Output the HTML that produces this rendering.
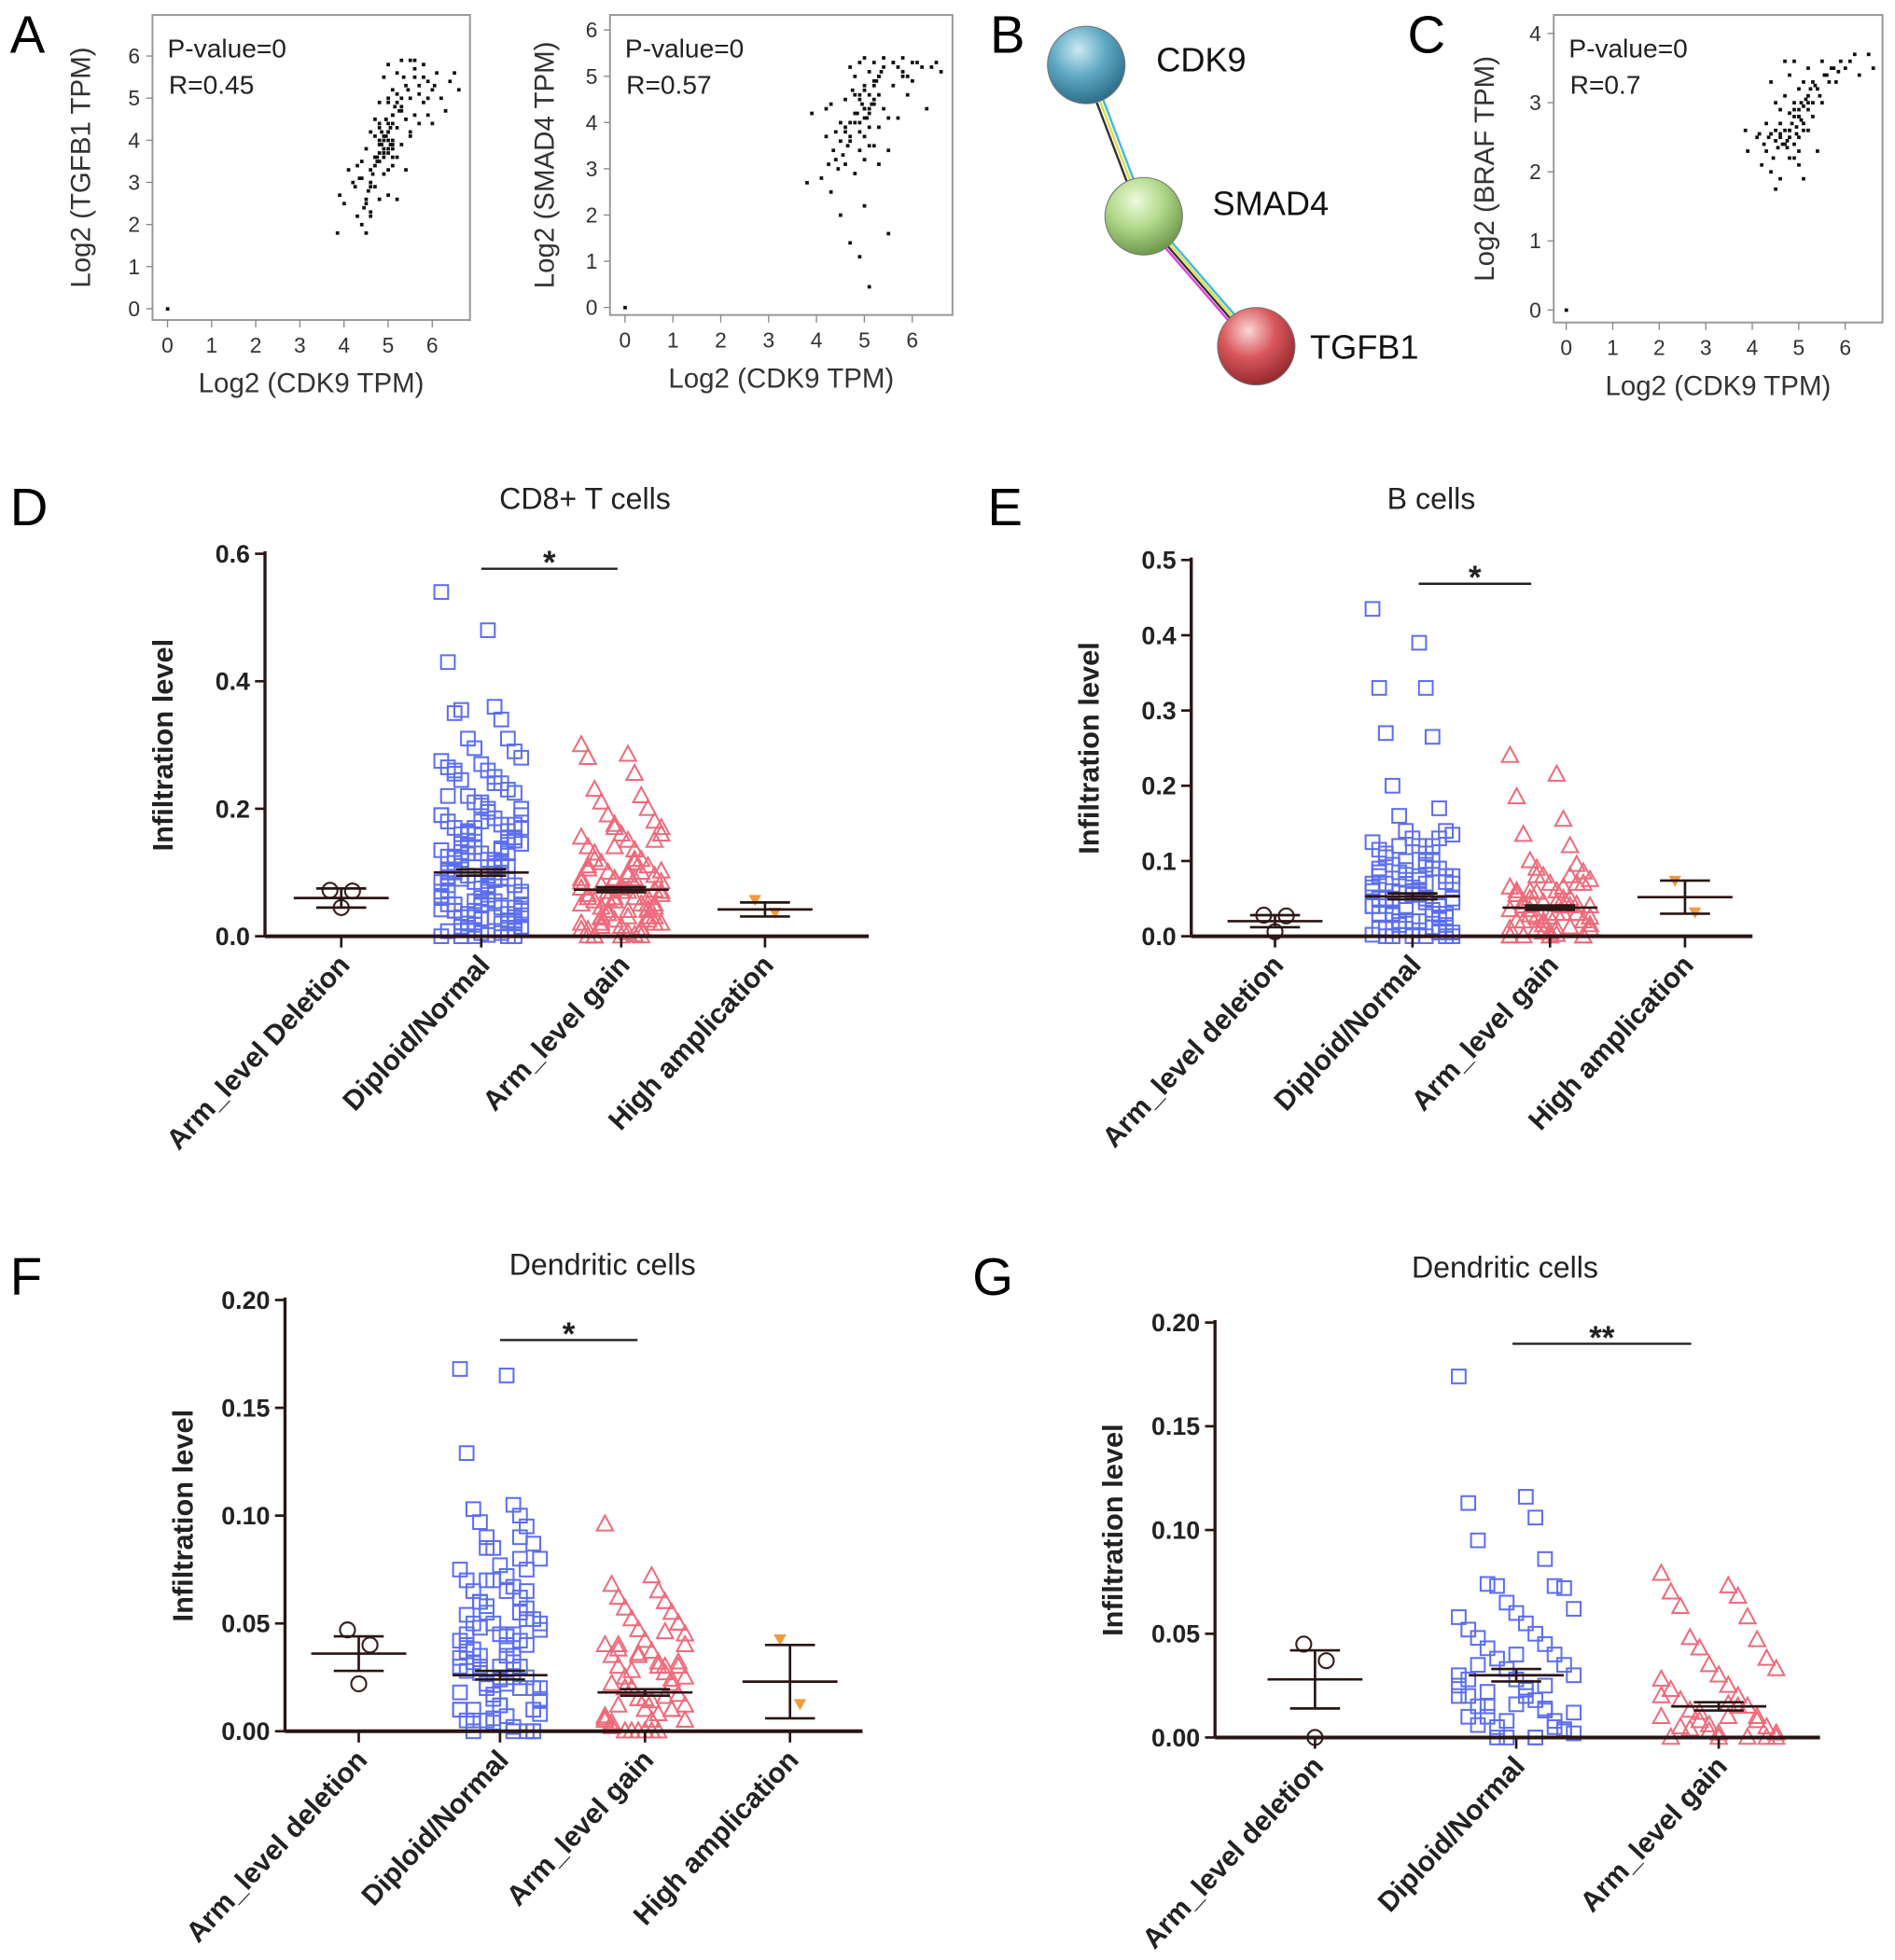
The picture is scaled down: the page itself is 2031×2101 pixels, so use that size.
<!DOCTYPE html>
<html><head><meta charset="utf-8"><style>
html,body{margin:0;padding:0;background:#fff;}
svg{display:block;font-family:"Liberation Sans",Arial,sans-serif;}
</style></head><body>
<svg id="fig" width="2031" height="2101" viewBox="0 0 1516 1568" preserveAspectRatio="none" xmlns="http://www.w3.org/2000/svg">
<defs>
<radialGradient id="gC" cx="40%" cy="30%" r="70%"><stop offset="0" stop-color="#cdeaf2"/><stop offset="0.5" stop-color="#5fa9c4"/><stop offset="1" stop-color="#2e6f8a"/></radialGradient>
<radialGradient id="gS" cx="40%" cy="30%" r="70%"><stop offset="0" stop-color="#eefadc"/><stop offset="0.5" stop-color="#b2d98a"/><stop offset="1" stop-color="#6f9a4c"/></radialGradient>
<radialGradient id="gT" cx="40%" cy="30%" r="70%"><stop offset="0" stop-color="#fbd6d6"/><stop offset="0.5" stop-color="#d9575b"/><stop offset="1" stop-color="#962a2e"/></radialGradient>
</defs>
</svg>
<script>
// ===== Scatter data (panels A, C) =====
const a1X=[0,3.85,3.9,4.0,4.1,4.2,4.3,4.3,4.4,4.4,4.5,4.5,4.5,4.6,4.6,4.6,4.7,4.7,4.7,4.8,4.8,4.8,4.8,4.9,4.9,4.9,4.9,5.0,5.0,5.0,5.0,5.0,5.1,5.1,5.1,5.1,5.2,5.2,5.2,5.2,5.3,5.3,5.3,5.4,5.4,5.4,5.5,5.5,5.5,5.6,5.6,5.7,5.7,5.8,5.8,5.9,6.0,6.0,6.1,6.2,6.3,6.4,6.5,6.6,4.6,4.8,5.0,5.2,4.9,5.1,4.7,5.0,5.3,4.8,5.1,5.5,4.4,5.6,5.9,4.95,
4.85,4.9,4.95,5.0,5.05,4.8,4.9,5.0,5.1,4.75,4.85,4.95,5.05,5.15,4.7,4.8,5.0,5.2,4.6,4.9,5.1,5.3,4.65,4.75,5.25,5.35,4.55,5.45,4.45,5.6,5.7,5.8,4.35,4.25,5.9,6.05,4.5,4.6,5.0,5.1];
const a1Y=[0,1.8,2.7,2.5,3.3,3.0,3.4,2.2,3.5,2.0,2.6,3.8,1.8,3.3,4.2,2.3,3.6,4.5,2.9,3.9,4.9,2.6,3.5,4.1,5.5,3.2,3.8,4.4,5.0,3.7,2.7,5.8,4.0,4.6,3.4,5.2,4.3,3.6,5.6,2.6,4.8,3.9,5.9,4.5,5.3,3.3,4.2,5.0,5.9,4.6,5.5,4.4,5.3,4.9,5.8,4.6,5.2,4.4,5.6,5.0,4.7,5.4,5.6,5.2,3.0,4.3,4.0,4.9,3.6,3.8,4.1,4.2,4.7,3.7,3.9,4.1,3.1,5.9,5.4,4.5,
3.9,4.0,4.1,4.2,4.3,4.4,3.7,3.8,4.6,3.6,4.2,4.5,3.9,4.8,3.4,4.0,4.9,5.1,2.9,3.7,4.4,5.0,3.2,3.5,4.7,5.5,2.8,5.2,2.4,5.7,5.1,5.5,3.1,2.9,5.0,5.3,2.5,2.2,3.3,3.6];
const a2X=[0,3.8,3.9,4.1,4.2,4.3,4.3,4.4,4.5,4.5,4.6,4.6,4.7,4.7,4.7,4.8,4.8,4.8,4.9,4.9,4.9,4.9,5.0,5.0,5.0,5.0,5.0,5.1,5.1,5.1,5.1,5.2,5.2,5.2,5.3,5.3,5.3,5.4,5.4,5.5,5.5,5.6,5.6,5.7,5.8,5.8,5.9,6.0,6.1,6.2,6.3,6.4,6.5,6.6,4.6,4.9,5.0,5.2,5.5,4.8,5.0,5.1,4.7,5.3,5.8,4.4,4.2,
4.85,4.95,5.05,4.9,5.0,5.1,4.8,4.75,5.15,4.7,5.2,4.65,5.25,4.6,5.3,4.55,5.35,4.5,5.4,4.45,5.6,5.7,5.9,6.0,4.35,4.25,4.9,5.0,5.1,5.2];
const a2Y=[0,2.7,4.2,2.8,3.7,2.5,4.4,3.8,2.0,4.0,3.1,4.5,1.4,3.6,5.2,4.2,2.9,5.0,4.6,3.4,5.3,1.1,4.1,4.7,3.2,5.4,2.2,4.3,0.45,3.9,5.1,4.4,3.5,5.3,4.6,3.1,5.0,4.3,5.4,3.4,1.6,4.8,5.3,4.1,5.0,5.4,4.6,4.9,5.3,5.2,4.3,5.2,5.3,5.1,3.8,4.0,4.3,4.5,4.1,4.6,4.8,4.2,4.0,3.9,5.1,3.2,4.3,
4.2,4.4,4.1,4.5,4.3,4.6,4.0,4.7,4.4,3.7,4.8,3.5,4.9,3.9,5.0,3.3,5.1,3.6,5.2,3.0,5.3,5.2,5.0,5.3,3.4,3.1,3.8,3.7,3.5,4.9];
const cX=[0,3.85,3.9,4.1,4.2,4.3,4.3,4.4,4.4,4.5,4.5,4.5,4.6,4.6,4.6,4.7,4.7,4.7,4.8,4.8,4.8,4.9,4.9,4.9,4.9,5.0,5.0,5.0,5.0,5.1,5.1,5.1,5.2,5.2,5.2,5.3,5.3,5.4,5.4,5.5,5.5,5.6,5.7,5.8,5.9,6.0,6.1,6.2,6.3,6.5,6.6,4.6,4.8,5.0,5.2,4.95,5.05,4.75,5.15,4.55,
4.85,4.9,5.0,5.1,4.8,4.7,5.2,4.65,4.95,5.05,4.75,5.25,4.6,5.3,4.5,4.4,5.35,4.45,5.45,4.35,5.55,5.65,5.75,5.85,4.25,4.15,5.0,4.9,5.1,4.8];
const cY=[0,2.6,2.3,2.5,2.1,2.7,2.3,3.3,2.0,2.6,1.75,3.0,2.5,2.9,1.9,2.4,3.1,3.6,2.6,2.2,3.4,2.8,2.4,3.0,3.6,2.5,3.2,2.1,2.9,2.7,3.3,1.9,3.0,2.6,3.5,2.8,3.3,3.2,2.3,3.0,3.6,3.4,3.5,3.3,3.6,3.5,3.6,3.7,3.4,3.7,3.5,2.7,2.6,2.8,2.9,2.55,2.75,2.45,3.05,2.35,
2.7,2.9,2.8,2.95,2.5,2.6,3.1,2.4,2.65,3.0,2.35,3.2,2.55,3.0,2.45,2.55,3.25,2.2,3.1,2.5,3.4,3.3,3.5,3.45,2.4,2.55,2.3,2.2,2.6,2.85];

// ===== Infiltration data (panels D-G) =====
const dCats=["Arm_level Deletion","Diploid/Normal","Arm_level gain","High amplication"];
const dDel=[0.072,0.071,0.045];
const dDip=[0.54,0.48,0.43,0.36,0.35,0.34,0.355,0.31,0.31,0.29,0.295,0.28,0.27,0.275,0.26,0.265,0.25,0.255,0.24,0.245,0.23,0.22,0.225,0.21,0.2,0.205,0.19,0.195,0.18,0.185,0.17,0.175,0.16,0.165,0.15,0.155,0.14,0.145,0.13,0.135,0.12,0.125,0.11,0.115,0.1,0.105,0.09,0.095,0.08,0.085,0.07,0.075,0.06,0.065,0.05,0.055,0.04,0.045,0.03,0.035,0.02,0.025,0.01,0.015,0.005,0.0,0.002,0.008,0.03,0.05,0.07,0.09,0.11,0.13,0.15,0.17,0.19,0.21,0.06,0.08,0.1,0.12,0.04,0.02,0.0,
0.0,0.01,0.02,0.03,0.04,0.05,0.06,0.07,0.08,0.09,0.1,0.11,0.12,0.13,0.14,0.15,0.16,0.17,0.18,0.19,0.2,0.22,0.24,0.26,0.005,0.015,0.025,0.035,0.045,0.055,0.065,0.075,0.085,0.095,0.105,0.115,0.125,0.135,0.145,0.155,0.165,0.175,0.0,0.012,0.028,0.042,0.058,0.072,0.088,0.102,0.118,0.132,0.148,0.162,0.0,0.018,0.033,0.048,0.063,0.078,0.093,0.108,0.123,0.138,0.0,0.01,0.02,0.03,0.04,0.05,0.06,0.07,0.08,0.09];
const dGain=[0.3,0.285,0.28,0.255,0.23,0.22,0.21,0.2,0.19,0.18,0.175,0.17,0.16,0.155,0.15,0.14,0.135,0.13,0.12,0.115,0.11,0.1,0.095,0.09,0.085,0.08,0.075,0.07,0.065,0.06,0.055,0.05,0.045,0.04,0.035,0.03,0.025,0.02,0.015,0.01,0.005,0.0,0.002,0.12,0.1,0.08,0.06,0.04,0.02,0.14,0.16,0.07,0.05,0.03,0.01,0.09,
0.0,0.01,0.02,0.03,0.04,0.05,0.06,0.07,0.08,0.09,0.1,0.11,0.12,0.13,0.0,0.015,0.025,0.035,0.045,0.055,0.065,0.075,0.085,0.095,0.105,0.115,0.0,0.012,0.028,0.042,0.058,0.072,0.088,0.102,0.0,0.02,0.04,0.06,0.08,0.0,0.01,0.03,0.05,0.07,0.15,0.17];
const dHigh=[0.055,0.035];
const dMean=[0.06,0.1,0.073,0.042];
const dSem=[0.015,0.005,0.004,0.011];

const eCats=["Arm_level deletion","Diploid/Normal","Arm_level gain","High amplication"];
const eDel=[0.028,0.027,0.006];
const eDip=[0.435,0.39,0.33,0.33,0.27,0.265,0.2,0.17,0.16,0.14,0.14,0.135,0.13,0.125,0.12,0.115,0.11,0.105,0.1,0.095,0.09,0.085,0.08,0.075,0.07,0.065,0.06,0.055,0.05,0.045,0.04,0.035,0.03,0.025,0.02,0.015,0.01,0.005,0.0,0.002,0.008,0.03,0.05,0.07,0.09,0.06,0.04,0.02,0.0,0.1,0.08,0.06,0.04,0.02,0.01,0.07,0.05,0.03,
0.0,0.01,0.02,0.03,0.04,0.05,0.06,0.07,0.08,0.09,0.1,0.11,0.12,0.0,0.005,0.015,0.025,0.035,0.045,0.055,0.065,0.075,0.085,0.095,0.0,0.012,0.028,0.042,0.058,0.072,0.088,0.0,0.02,0.04,0.06,0.08,0.0,0.01,0.03,0.05,0.13,0.12];
const eGain=[0.24,0.215,0.185,0.155,0.135,0.12,0.1,0.095,0.09,0.085,0.08,0.075,0.07,0.065,0.06,0.055,0.05,0.045,0.04,0.035,0.03,0.025,0.02,0.015,0.01,0.005,0.0,0.002,0.06,0.04,0.02,0.08,0.05,0.03,0.01,0.07,0.045,0.025,0.0,
0.0,0.01,0.02,0.03,0.04,0.05,0.06,0.07,0.08,0.0,0.005,0.015,0.025,0.035,0.045,0.055,0.065,0.0,0.012,0.028,0.042,0.058,0.0,0.02,0.04,0.0,0.01,0.03];
const eHigh=[0.072,0.03];
const eMean=[0.02,0.053,0.038,0.052];
const eSem=[0.008,0.004,0.003,0.022];

const fCats=["Arm_level deletion","Diploid/Normal","Arm_level gain","High amplication"];
const fDel=[0.047,0.04,0.022];
const fDip=[0.168,0.165,0.129,0.105,0.103,0.1,0.097,0.095,0.09,0.087,0.085,0.08,0.077,0.075,0.072,0.07,0.067,0.065,0.062,0.06,0.057,0.055,0.052,0.05,0.047,0.045,0.042,0.04,0.037,0.035,0.032,0.03,0.027,0.025,0.022,0.02,0.017,0.015,0.012,0.01,0.007,0.005,0.002,0.0,0.08,0.06,0.04,0.02,0.0,0.07,0.05,0.03,0.01,0.065,0.045,0.025,0.005,0.09,0.035,
0.0,0.005,0.01,0.015,0.02,0.025,0.03,0.035,0.04,0.045,0.05,0.055,0.06,0.065,0.07,0.0,0.004,0.008,0.012,0.018,0.022,0.028,0.032,0.038,0.042,0.048,0.052,0.058,0.0,0.006,0.014,0.024,0.034,0.044,0.054,0.0,0.01,0.02,0.03,0.075,0.085];
const fGain=[0.096,0.072,0.068,0.065,0.062,0.06,0.057,0.055,0.052,0.05,0.047,0.045,0.042,0.04,0.037,0.035,0.032,0.03,0.027,0.025,0.022,0.02,0.017,0.015,0.012,0.01,0.007,0.005,0.002,0.0,0.04,0.03,0.02,0.01,0.0,0.05,0.035,0.025,0.015,0.005,
0.0,0.004,0.008,0.012,0.016,0.02,0.024,0.028,0.032,0.036,0.04,0.0,0.006,0.014,0.022,0.03,0.038,0.046,0.0,0.01,0.02,0.03,0.0,0.005,0.015];
const fHigh=[0.042,0.012];
const fMean=[0.036,0.026,0.018,0.023];
const fSem=[0.008,0.002,0.0015,0.017];

const gCats=["Arm_level deletion","Diploid/Normal","Arm_level gain"];
const gDel=[0.045,0.037,0.0];
const gDip=[0.174,0.116,0.113,0.106,0.095,0.086,0.074,0.073,0.073,0.072,0.065,0.062,0.06,0.058,0.055,0.052,0.05,0.048,0.045,0.043,0.04,0.038,0.035,0.033,0.03,0.028,0.025,0.023,0.02,0.018,0.015,0.013,0.01,0.008,0.005,0.003,0.0,0.002,0.04,0.03,0.02,0.01,0.0,0.035,0.025,0.015,0.005,
0.0,0.004,0.008,0.012,0.016,0.02,0.024,0.028,0.0,0.006,0.014,0.022];
const gGain=[0.079,0.073,0.07,0.068,0.063,0.058,0.048,0.047,0.043,0.038,0.035,0.033,0.03,0.028,0.025,0.023,0.02,0.018,0.015,0.013,0.01,0.008,0.005,0.003,0.0,0.002,0.02,0.01,0.0,0.015,0.005,
0.0,0.004,0.008,0.012,0.0,0.006,0.002,0.0,0.01,0.016];
const gMean=[0.028,0.03,0.015];
const gSem=[0.014,0.003,0.002];

const NS="http://www.w3.org/2000/svg";
const svg=document.getElementById('fig');
function mk(tag,attrs,parent,txt){const e=document.createElementNS(NS,tag);for(const k in attrs)e.setAttribute(k,attrs[k]);if(txt!==undefined)e.textContent=txt;(parent||svg).appendChild(e);return e;}

[["A",8,42],["B",792,42],["C",1126,42],["D",8,420],["E",790,420],["F",8,1036],["G",778,1036]].forEach(p=>{
  const t=mk('text',{x:p[1],y:p[2],'font-size':42},svg,p[0]);
  
  
});

function scatter(cfg,xs,ys){
  const g=mk('g',{});
  
  
  const sx=v=>cfg.x0+v*cfg.xu, sy=v=>cfg.y0-v*cfg.yu;
  mk('rect',{x:cfg.bx,y:cfg.by,width:cfg.bw,height:cfg.bh,fill:'none',stroke:'#999','stroke-width':1.5},g);
  for(let i=0;i<=cfg.xmax;i++){
    mk('line',{x1:sx(i),x2:sx(i),y1:cfg.by+cfg.bh,y2:cfg.by+cfg.bh+6,stroke:'#888'},g);
    const t=mk('text',{x:sx(i),y:cfg.by+cfg.bh+26,'font-size':17,'text-anchor':'middle',fill:'#333'},g,String(i));
    
  }
  for(let i=0;i<=cfg.ymax;i++){
    mk('line',{x1:cfg.bx-5,x2:cfg.bx,y1:sy(i),y2:sy(i),stroke:'#888'},g);
    const t=mk('text',{x:cfg.bx-10,y:sy(i)+6,'font-size':17,'text-anchor':'end',fill:'#333'},g,String(i));
    
  }
  xs.forEach((v,i)=>{const c=mk('rect',{x:sx(v)-1.3,y:sy(ys[i])-1.3,width:2.8,height:2.8,fill:'#111'},g);
    });
  let t=mk('text',{x:cfg.bx+12,y:cfg.by+34,'font-size':21,fill:'#222'},g,'P-value=0');
  
  t=mk('text',{x:cfg.bx+13,y:cfg.by+63,'font-size':21,fill:'#222'},g,cfg.r);
  
  t=mk('text',{x:cfg.bx+cfg.bw/2,y:cfg.by+cfg.bh+58,'font-size':22,'text-anchor':'middle',fill:'#333'},g,'Log2 (CDK9 TPM)');
  
  t=mk('text',{x:0,y:0,'font-size':22,'text-anchor':'middle',fill:'#333',transform:`translate(${cfg.ylx},${cfg.by+cfg.bh/2}) rotate(-90)`},g,cfg.ylab);
  
}
scatter({name:'scatter-tgfb1',bx:122,by:12,bw:254,bh:244,x0:134,xu:35.3,y0:247,yu:33.7,xmax:6,ymax:6,r:'R=0.45',ylab:'Log2 (TGFB1 TPM)',ylx:72},a1X,a1Y);
scatter({name:'scatter-smad4',bx:488,by:12,bw:274,bh:240,x0:500,xu:38.3,y0:246,yu:37,xmax:6,ymax:6,r:'R=0.57',ylab:'Log2 (SMAD4 TPM)',ylx:443},a2X,a2Y);
scatter({name:'scatter-braf',bx:1243,by:12,bw:263,bh:246,x0:1253,xu:37.2,y0:248,yu:55.3,xmax:6,ymax:4,r:'R=0.7',ylab:'Log2 (BRAF TPM)',ylx:1195},cX,cY);

(function(){
  const g=mk('g',{});
  
  [[869,52,915,173,[-3,0,3]],[915,173,1005,277,[-4.5,-1.5,1.5,4.5]]].forEach((e,ei)=>{
    const cl=ei===0?['#333','#e0e040','#40b8e8']:['#e040e0','#333','#e0e040','#40b8e8'];
    e[4].forEach((o,k)=>mk('line',{x1:e[0]+o,y1:e[1],x2:e[2]+o,y2:e[3],stroke:cl[k],'stroke-width':1.8},g));
  });
  [[869,52,'gC','CDK9',925,57],[915,173,'gS','SMAD4',970,172],[1005,277,'gT','TGFB1',1048,287]].forEach(n=>{
    const c=mk('circle',{cx:n[0],cy:n[1],r:31,fill:`url(#${n[2]})`,stroke:'#777','stroke-width':0.8},g);
    
    const t=mk('text',{x:n[4],y:n[5],'font-size':27,fill:'#111'},g,n[3]);
    
  });
})();

function marker(g,type,x,y){
  let e;
  const s=5.5;
  if(type==='circle') e=mk('circle',{cx:x,cy:y,r:6,fill:'none',stroke:'#3a2020','stroke-width':1.6},g);
  else if(type==='square') e=mk('rect',{x:x-s,y:y-s,width:2*s,height:2*s,fill:'none',stroke:'#5b6ef0','stroke-width':1.5},g);
  else if(type==='tri') e=mk('polygon',{points:`${x},${y-7} ${x-6.5},${y+5} ${x+6.5},${y+5}`,fill:'none',stroke:'#f06a7a','stroke-width':1.5},g);
  else e=mk('polygon',{points:`${x-5},${y-5} ${x+5},${y-5} ${x},${y+4}`,fill:'#f39a3a'},g);
  
  
}
function dotplot(cfg){
  const g=mk('g',{});
  
  const sy=v=>cfg.y0-(v/cfg.ymax)*(cfg.y0-cfg.ytop);
  const types=['circle','square','tri','inv'];
  let t=mk('text',{x:cfg.tx,y:cfg.ty,'font-size':24,'text-anchor':'middle',fill:'#222'},g,cfg.title);
  
  t=mk('text',{x:0,y:0,'font-size':23,'font-weight':'bold','text-anchor':'middle',fill:'#222',transform:`translate(${cfg.ax-74},${(cfg.y0+cfg.ytop)/2}) rotate(-90)`},g,'Infiltration level');
  
  cfg.ticks.forEach(v=>{
    mk('line',{x1:cfg.ax-8,x2:cfg.ax,y1:sy(v),y2:sy(v),stroke:'#2a1515','stroke-width':2},g);
    const tt=mk('text',{x:cfg.ax-12,y:sy(v)+7,'font-size':20,'font-weight':'bold','text-anchor':'end',fill:'#222'},g,v.toFixed(cfg.dec));
    
  });
  cfg.groups.forEach((arr,gi)=>{
    const cx=cfg.cx[gi];
    const type=gi===3?'inv':types[gi];
    const w=arr.length>10?cfg.jw:12;
    arr.forEach((v,i)=>{
      const off=arr.length>10?(((i*7)%13)-6)/6*w:((i%2)*2-1)*(arr.length===3?(i===2?0:9):8);
      marker(g,type,cx+off,sy(v));
    });
    const m=cfg.mean[gi],s=cfg.sem[gi];
    mk('line',{x1:cx-38,x2:cx+38,y1:sy(m),y2:sy(m),stroke:'#2a1515','stroke-width':2},g);
    mk('line',{x1:cx-20,x2:cx+20,y1:sy(m+s),y2:sy(m+s),stroke:'#2a1515','stroke-width':2},g);
    mk('line',{x1:cx-20,x2:cx+20,y1:sy(m-s),y2:sy(m-s),stroke:'#2a1515','stroke-width':2},g);
    mk('line',{x1:cx,x2:cx,y1:sy(m+s),y2:sy(m-s),stroke:'#2a1515','stroke-width':2},g);
    mk('line',{x1:cx,x2:cx,y1:cfg.y0,y2:cfg.y0+9,stroke:'#2a1515','stroke-width':2},g);
    const lt=mk('text',{x:0,y:0,'font-size':22.5,'font-weight':'bold','text-anchor':'end',fill:'#222',transform:`translate(${cx+8},${cfg.y0+24}) rotate(-47)`},g,cfg.cats[gi]);
    
  });
  mk('line',{x1:cfg.ax,x2:cfg.ax,y1:cfg.ytop-2,y2:cfg.y0,stroke:'#2a1515','stroke-width':2.5},g);
  mk('line',{x1:cfg.ax,x2:cfg.axEnd,y1:cfg.y0,y2:cfg.y0,stroke:'#2a1515','stroke-width':3},g);
  mk('line',{x1:cfg.sig[0],x2:cfg.sig[1],y1:cfg.sig[2],y2:cfg.sig[2],stroke:'#222','stroke-width':1.8},g);
  t=mk('text',{x:(cfg.sig[0]+cfg.sig[1])/2,y:cfg.sig[2]+4,'font-size':26,'font-weight':'bold','text-anchor':'middle',fill:'#222'},g,cfg.star);
  
}
dotplot({name:'cd8-t-cells-chart',title:'CD8+ T cells',tx:468,ty:407,ax:212,axEnd:695,y0:749,ytop:443,ymax:0.6,ticks:[0,0.2,0.4,0.6],dec:1,
  cx:[273,385,497,612],cats:dCats,groups:[dDel,dDip,dGain,dHigh],mean:dMean,sem:dSem,jw:32,sig:[385,494,455],star:'*'});
dotplot({name:'b-cells-chart',title:'B cells',tx:1145,ty:407,ax:953,axEnd:1402,y0:749,ytop:448,ymax:0.5,ticks:[0,0.1,0.2,0.3,0.4,0.5],dec:1,
  cx:[1020,1130,1240,1348],cats:eCats,groups:[eDel,eDip,eGain,eHigh],mean:eMean,sem:eSem,jw:32,sig:[1135,1225,467],star:'*'});
dotplot({name:'dendritic-cells-chart-f',title:'Dendritic cells',tx:482,ty:1020,ax:228,axEnd:690,y0:1385,ytop:1040,ymax:0.2,ticks:[0,0.05,0.1,0.15,0.2],dec:2,
  cx:[287,400,516,632],cats:fCats,groups:[fDel,fDip,fGain,fHigh],mean:fMean,sem:fSem,jw:32,sig:[400,510,1072],star:'*'});
dotplot({name:'dendritic-cells-chart-g',title:'Dendritic cells',tx:1204,ty:1022,ax:972,axEnd:1456,y0:1390,ytop:1058,ymax:0.2,ticks:[0,0.05,0.1,0.15,0.2],dec:2,
  cx:[1052,1213,1375],cats:gCats,groups:[gDel,gDip,gGain],mean:gMean,sem:gSem,jw:46,sig:[1210,1353,1075],star:'**'});
</script>
</body></html>
